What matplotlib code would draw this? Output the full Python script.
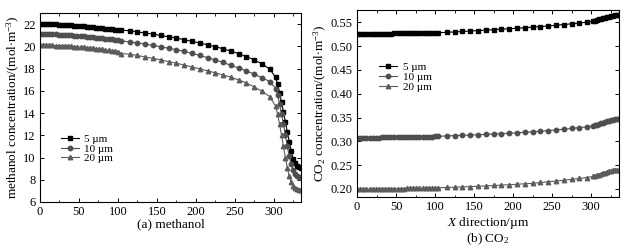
import matplotlib
matplotlib.use('Agg')
import matplotlib.pyplot as plt
from matplotlib.ticker import MultipleLocator

plt.rcParams['font.family'] = ['Liberation Serif', 'DejaVu Serif']
plt.rcParams['mathtext.fontset'] = 'custom'
plt.rcParams['mathtext.rm'] = 'Liberation Serif'
plt.rcParams['mathtext.it'] = 'Liberation Serif:italic'
plt.rcParams['mathtext.bf'] = 'Liberation Serif:bold'

# x positions along the channel (µm)
X_POS = [0, 4, 8, 12, 16, 20, 24, 28, 32, 36, 40, 44, 48, 52, 56, 60, 64, 68,
         72, 76, 80, 84, 88, 92, 96, 100, 104,
         115, 125, 135, 145, 155, 165, 175, 185, 195, 205, 215, 225, 235, 245,
         255, 265, 275, 285, 295,
         302.5, 305, 307.5, 310, 312.5, 315, 317.5, 320, 322.5, 325, 327.5,
         330, 332.5, 335]

LABELS = ['5 µm', '10 µm', '20 µm']

# (a) methanol concentration
MEOH_5 = [22.00, 22.00, 22.00, 21.99, 21.98, 21.97, 21.96, 21.94, 21.92, 21.90,
          21.88, 21.86, 21.84, 21.82, 21.80, 21.77, 21.75, 21.72, 21.69, 21.66,
          21.63, 21.60, 21.57, 21.54, 21.51, 21.48, 21.46,
          21.40, 21.30, 21.20, 21.10, 20.98, 20.86, 20.74, 20.60, 20.45, 20.30,
          20.14, 19.97, 19.78, 19.57, 19.35, 19.08, 18.78, 18.42, 17.95,
          17.2, 16.6, 15.8, 15.0, 14.1, 13.2, 12.3, 11.4, 10.6, 9.9, 9.5,
          9.25, 9.15, 9.1]
MEOH_10 = [21.10, 21.10, 21.10, 21.09, 21.08, 21.07, 21.06, 21.05, 21.03, 21.01,
           20.99, 20.97, 20.95, 20.93, 20.91, 20.88, 20.85, 20.82, 20.79, 20.76,
           20.73, 20.70, 20.66, 20.62, 20.58, 20.54, 20.50,
           20.40, 20.30, 20.20, 20.08, 19.96, 19.83, 19.70, 19.55, 19.38, 19.18,
           18.98, 18.78, 18.55, 18.30, 18.05, 17.80, 17.50, 17.18, 16.83,
           16.2, 15.6, 14.8, 13.9, 13.0, 12.0, 11.0, 10.1, 9.4, 8.9, 8.55,
           8.35, 8.25, 8.2]
MEOH_20 = [20.10, 20.10, 20.10, 20.09, 20.08, 20.07, 20.06, 20.05, 20.03, 20.01,
           19.99, 19.97, 19.95, 19.93, 19.90, 19.87, 19.84, 19.81, 19.78, 19.75,
           19.72, 19.69, 19.66, 19.62, 19.55, 19.45, 19.35,
           19.30, 19.18, 19.05, 18.92, 18.78, 18.63, 18.48, 18.32, 18.15, 17.98,
           17.80, 17.62, 17.43, 17.22, 16.98, 16.70, 16.35, 15.95, 15.48,
           14.6, 13.9, 13.0, 12.0, 11.0, 10.0, 9.1, 8.3, 7.8, 7.45, 7.25,
           7.15, 7.1, 7.08]

# (b) CO2 concentration
CO2_5 = [0.5260, 0.5260, 0.5260, 0.5261, 0.5261, 0.5262, 0.5262, 0.5263, 0.5264,
         0.5264, 0.5265, 0.5266, 0.5267, 0.5268, 0.5269, 0.5270, 0.5271, 0.5272,
         0.5273, 0.5274, 0.5275, 0.5276, 0.5277, 0.5278, 0.5279, 0.5280, 0.5282,
         0.5292, 0.5300, 0.5309, 0.5318, 0.5327, 0.5337, 0.5347, 0.5357, 0.5367,
         0.5377, 0.5388, 0.5400, 0.5412, 0.5424, 0.5440, 0.5455, 0.5470, 0.5487,
         0.5505,
         0.5525, 0.5535, 0.5548, 0.5562, 0.5575, 0.5588, 0.5600, 0.5612, 0.5622,
         0.5632, 0.5640, 0.5647, 0.5652, 0.5656]
CO2_10 = [0.3075, 0.3075, 0.3076, 0.3076, 0.3077, 0.3078, 0.3079, 0.3080, 0.3081,
          0.3082, 0.3083, 0.3084, 0.3085, 0.3086, 0.3087, 0.3088, 0.3089, 0.3090,
          0.3092, 0.3093, 0.3094, 0.3096, 0.3097, 0.3099, 0.3100, 0.3102, 0.3104,
          0.3115, 0.3120, 0.3126, 0.3132, 0.3139, 0.3146, 0.3154, 0.3162, 0.3171,
          0.3180, 0.3190, 0.3201, 0.3213, 0.3226, 0.3240, 0.3255, 0.3271, 0.3288,
          0.3306,
          0.3325, 0.3335, 0.3348, 0.3362, 0.3377, 0.3392, 0.3407, 0.3421, 0.3434,
          0.3446, 0.3456, 0.3464, 0.3470, 0.3474]
CO2_20 = [0.1995, 0.1995, 0.1996, 0.1996, 0.1997, 0.1998, 0.1999, 0.2000, 0.2001,
          0.2002, 0.2003, 0.2004, 0.2005, 0.2006, 0.2007, 0.2008, 0.2009, 0.2010,
          0.2012, 0.2013, 0.2014, 0.2016, 0.2017, 0.2019, 0.2020, 0.2022, 0.2024,
          0.2030, 0.2036, 0.2042, 0.2049, 0.2056, 0.2064, 0.2072, 0.2080, 0.2089,
          0.2098, 0.2108, 0.2118, 0.2135, 0.2150, 0.2166, 0.2183, 0.2201, 0.2220,
          0.2240,
          0.2262, 0.2272, 0.2285, 0.2299, 0.2314, 0.2329, 0.2344, 0.2358, 0.2370,
          0.2381, 0.2390, 0.2397, 0.2402, 0.2405]

STYLES = [('s', '#000000'), ('o', '#4f4f4f'), ('^', '#5c5c5c')]
FS = 9
FS_LAB = 9.5


def style_axes(ax):
    ax.tick_params(which='both', direction='in', top=True, right=True,
                   labelsize=FS, pad=3)
    ax.tick_params(which='major', length=3, width=0.7)
    ax.tick_params(which='minor', length=1.8, width=0.6)
    ax.xaxis.set_major_locator(MultipleLocator(50))
    ax.xaxis.set_minor_locator(MultipleLocator(25))
    for sp in ax.spines.values():
        sp.set_linewidth(0.8)


fig = plt.figure(figsize=(6.31, 2.48), dpi=100)
ax1 = fig.add_axes([0.0634, 0.1855, 0.4136, 0.7621])
ax2 = fig.add_axes([0.5658, 0.2056, 0.4144, 0.7540])

for ys, (m, c), lab in zip([MEOH_5, MEOH_10, MEOH_20], STYLES, LABELS):
    ax1.plot(X_POS, ys, marker=m, color=c, mfc=c, mec=c, ms=3.2, lw=0.8,
             label=lab)
for ys, (m, c), lab in zip([CO2_5, CO2_10, CO2_20], STYLES, LABELS):
    ax2.plot(X_POS, ys, marker=m, color=c, mfc=c, mec=c, ms=3.2, lw=0.8,
             label=lab)

ax1.set_xlim(0, 335)
ax1.set_ylim(6, 23)
ax1.yaxis.set_major_locator(MultipleLocator(2))
style_axes(ax1)
ax1.set_ylabel(r'methanol concentration/(mol$\cdot$m$^{-3}$)', fontsize=FS_LAB,
               labelpad=1)
ax1.set_xlabel('(a) methanol', fontsize=FS_LAB, labelpad=0)

ax2.set_xlim(0, 335)
ax2.set_ylim(0.183, 0.576)
ax2.yaxis.set_major_locator(MultipleLocator(0.05))
ax2.yaxis.set_major_formatter(plt.FormatStrFormatter('%.2f'))
style_axes(ax2)
ax2.set_ylabel(r'CO$_2$ concentration/(mol$\cdot$m$^{-3}$)', fontsize=FS_LAB,
               labelpad=1)
ax2.set_xlabel(r'$X$ direction/µm', fontsize=FS_LAB, labelpad=1)
fig.text(0.773, 0.036, r'(b) CO$_2$', fontsize=FS_LAB, ha='center', va='center')

for ax, anchor in [(ax1, (0.08, 0.36)), (ax2, (0.085, 0.72))]:
    ax.legend(loc='upper left', bbox_to_anchor=anchor, frameon=False,
              fontsize=8, handlelength=1.6, handletextpad=0.5,
              labelspacing=0, borderpad=0, borderaxespad=0)

fig.savefig('out.png', dpi=100)
